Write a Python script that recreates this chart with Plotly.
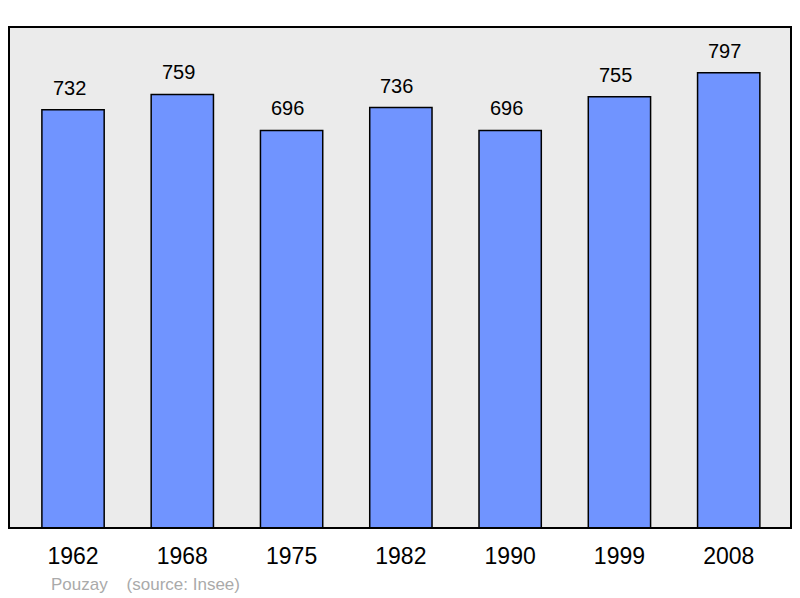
import plotly.graph_objects as go

# Population de Pouzay
annees = ["1962", "1968", "1975", "1982", "1990", "1999", "2008"]
population = [732, 759, 696, 736, 696, 755, 797]

pos = list(range(len(annees)))

fig = go.Figure()
fig.add_trace(go.Bar(
    x=pos, y=population, width=0.57,
    marker=dict(color="#7094ff", line=dict(color="black", width=1.5)),
    hoverinfo="x+y",
))

# valeurs au-dessus des barres (légèrement décalées à gauche comme l'original)
for i, v in zip(pos, population):
    fig.add_annotation(x=i, y=v, text=str(v), showarrow=False, yshift=22, xshift=-4,
                       font=dict(size=20, color="black"))

fig.add_annotation(xref="paper", yref="paper", x=0.051, y=-0.112, xanchor="left",
                   yanchor="middle",
                   text="Pouzay&nbsp;&nbsp;&nbsp;&nbsp;(source: Insee)", showarrow=False,
                   font=dict(size=17, color="#aaaaaa"))

# la page a une marge de 8px : figure un peu réduite pour compenser
fig.update_layout(
    width=792, height=590,
    margin=dict(l=1, r=9, t=19, b=70),
    paper_bgcolor="white", plot_bgcolor="#ebebeb",
    font=dict(family="Liberation Sans, Arial, sans-serif"),
    showlegend=False,
    xaxis=dict(range=[-0.586, 6.57], tickvals=pos, ticktext=annees, showgrid=False,
               zeroline=False, ticks="", tickfont=dict(size=23, color="black"),
               ticklabelstandoff=12),
    yaxis=dict(range=[0, 877], visible=False, showgrid=False),
)
fig.add_shape(type="rect", xref="paper", yref="paper", x0=0, y0=0, x1=1, y1=1,
              line=dict(color="black", width=2), layer="above")

fig.write_html("out.html")
